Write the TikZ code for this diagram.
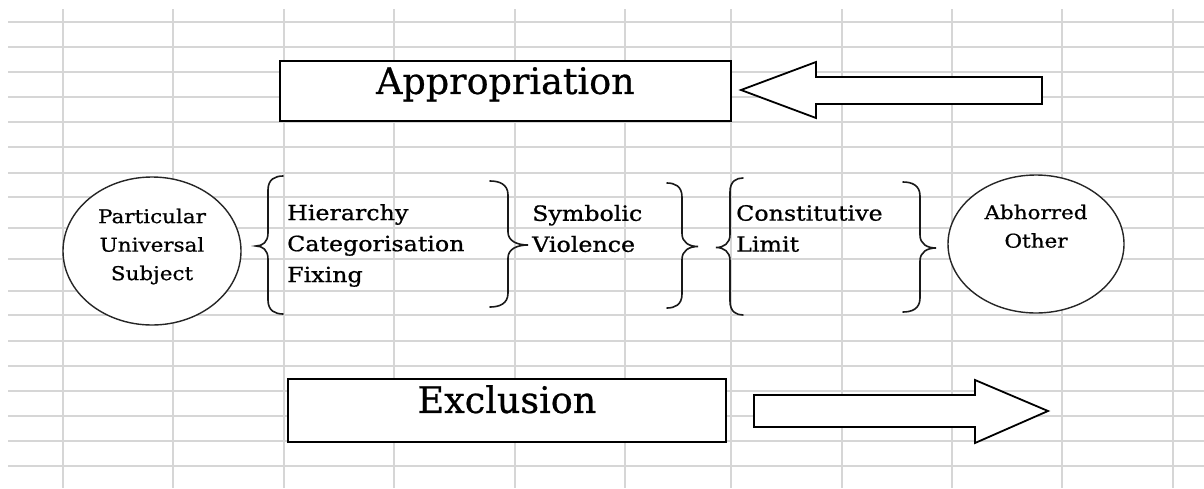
\documentclass[tikz,border=0pt]{standalone}
\usepackage{fontspec}
\setmainfont{DejaVu Serif}[FakeBold=0.6]
\newfontfamily\smallfont[FakeStretch=1.13,FakeBold=0.8]{DejaVu Serif}
\usetikzlibrary{shapes.geometric}
\definecolor{gridgray}{RGB}{214,214,214}
\newcommand{\mybrace}[5]{% end x, vertical x, tip x, top y, bottom y
  \pgfmathsetmacro\bym{(#4+#5)/2+1}%
  \pgfmathsetmacro\bya{#4+14}%
  \pgfmathsetmacro\byb{\bym-13}%
  \pgfmathsetmacro\byc{\bym+13}%
  \pgfmathsetmacro\byd{#5-14}%
  \pgfmathsetmacro\bxe{#1+0.5*(#2-#1)}%
  \pgfmathsetmacro\bxt{#2+0.45*(#3-#2)}%
  \draw[bracestyle] (#1,#4) .. controls (\bxe,#4) and (#2,#4+3) .. (#2,\bya) -- (#2,\byb)
     .. controls (#2,\bym-4) and (\bxt,\bym) .. (#3,\bym)
     .. controls (\bxt,\bym) and (#2,\bym+4) .. (#2,\byc)
     -- (#2,\byd) .. controls (#2,#5-3) and (\bxe,#5) .. (#1,#5);}
\begin{document}
\begin{tikzpicture}[x=1pt,y=-1pt,
  gridline/.style={draw=gridgray,line width=1.6pt},
  box/.style={draw=black,line width=1.8pt,fill=white,rectangle,inner xsep=0pt,inner ysep=0pt,
              font=\fontsize{36.5}{40}\selectfont},
  oval/.style={ellipse,draw=black!85,line width=1.4pt,fill=white,inner sep=0pt},
  smalltext/.style={font=\smallfont\fontsize{21}{31}\selectfont, align=left, inner sep=0pt},
  ovaltext/.style={font=\smallfont\fontsize{19}{28.5}\selectfont, align=center, inner sep=0pt},
  blockarrow/.style={draw=black,line width=1.8pt,fill=white,line join=miter},
  bracestyle/.style={draw=black!90,line width=1.6pt,line cap=round},
]
\useasboundingbox (0,0) rectangle (1204,488);
\fill[white] (0,0) rectangle (1204,488);
% spreadsheet grid
\foreach \gx in {63,173,284,394,515,625,731,842,952,1062,1173}
  \draw[gridline] (\gx,9) -- (\gx,488);
\foreach \gy in {22,47,72,97,122,147,173,197,228,259,291,315,341,366,391,416,441,466}
  \draw[gridline] (8,\gy) -- (1204,\gy);

% boxes
\node[box, minimum width=451pt, text height=33pt, text depth=27pt, anchor=north west] (appr) at (279,60) {Appropriation};
\node[box, minimum width=438pt, text height=34pt, text depth=29pt, anchor=north west] (excl) at (287,378) {Exclusion};

% block arrows
\draw[blockarrow] (741,90) -- (816,62) -- (816,77) -- (1042,77) -- (1042,104) -- (816,104) -- (816,118) -- cycle;
\draw[blockarrow] (1048,411) -- (975,380) -- (975,395) -- (754,395) -- (754,427) -- (975,427) -- (975,443) -- cycle;

% ellipses
\node[oval, minimum width=178pt, minimum height=148pt] (pus) at (152,251) {};
\node[ovaltext] (pustext) at (152,246.5) {Particular\\Universal\\Subject};
\node[oval, minimum width=176pt, minimum height=138pt] (ao) at (1036,244) {};
\node[ovaltext] (aotext) at (1036,226.3) {Abhorred\\Other};

% texts
\node[smalltext, anchor=west] (hier) at (287,245.5) {Hierarchy\\Categorisation\\Fixing};
\node[smalltext, anchor=west] (symb) at (532,228.5) {Symbolic\\Violence};
\node[smalltext, anchor=west] (const) at (736,228.5) {Constitutive\\Limit};

% braces
\mybrace{283}{268}{256}{176}{314}
\mybrace{490}{508}{528}{181}{307}
\mybrace{667}{682}{698}{183}{308}
\mybrace{743}{730}{716}{178}{315}
\mybrace{903}{920}{936}{182}{312}
\end{tikzpicture}
\end{document}
